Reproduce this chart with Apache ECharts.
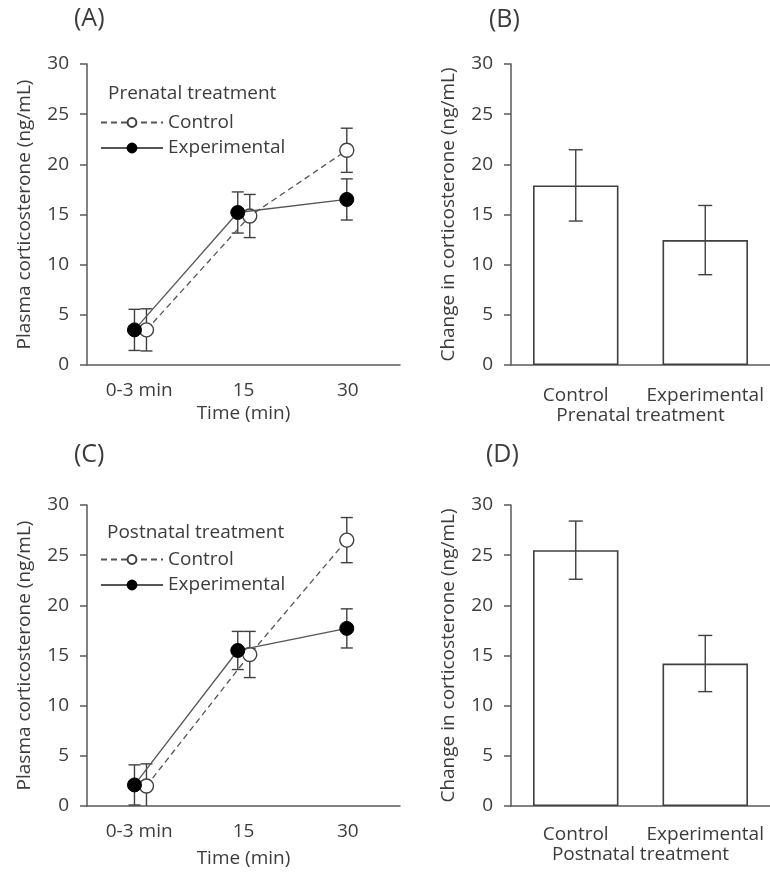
<!DOCTYPE html>
<html>
<head>
<meta charset="utf-8">
<script src="https://cdn.jsdelivr.net/npm/echarts@6/dist/echarts.min.js"></script>
<style>
	html, body { margin: 0; padding: 0; background: #fff; }
	#chart { width: 770px; height: 874px; }
</style>
</head>
<body>
<div id="chart"></div>
<script>
// categories
var timeLabels = ['0-3 min', '15', '30'];
var groupLabels = ['Control', 'Experimental'];

// (A) prenatal treatment, plasma corticosterone (mean, SEM)
var preCtrlMean = [3.5, 14.85, 21.4];
var preCtrlErr = [2.1, 2.15, 2.2];
var preExpMean = [3.5, 15.2, 16.5];
var preExpErr = [2.05, 2.05, 2.05];

// (C) postnatal treatment
var postCtrlMean = [2.0, 15.1, 26.5];
var postCtrlErr = [2.2, 2.3, 2.25];
var postExpMean = [2.1, 15.5, 17.7];
var postExpErr = [2.0, 1.9, 1.95];

// (B) and (D) change in corticosterone
var preChange = [17.9, 12.45];
var preChangeErr = [3.55, 3.45];
var postChange = [25.5, 14.2];
var postChangeErr = [2.9, 2.8];

// small horizontal dodge of the markers (category units)
var dodgeCtrl = [0.07, 0.06, -0.01];
var dodgeExp = [-0.045, -0.055, -0.01];

var FONT = 'Open Sans';
var TXT = '#3c3c3c';
var AXIS = '#595959';
var INK = '#404040';

function points(means, errs, dodge) {
	return means.map(function(m, i) { return [i + 0.5 + dodge[i], m, errs[i]]; });
}
function barErr(means, errs) {
	return means.map(function(m, i) { return [i, m, errs[i]]; });
}

function errorBar(cap) {
	return function(params, api) {
		var x = api.value(0), y = api.value(1), e = api.value(2);
		var hi = api.coord([x, y + e]);
		var lo = api.coord([x, y - e]);
		var st = { stroke: INK, lineWidth: 1.4, fill: null };
		return {
			type: 'group',
			children: [
				{ type: 'line', shape: { x1: hi[0], y1: hi[1], x2: lo[0], y2: lo[1] }, style: st },
				{ type: 'line', shape: { x1: hi[0] - cap, y1: hi[1], x2: hi[0] + cap, y2: hi[1] }, style: st },
				{ type: 'line', shape: { x1: lo[0] - cap, y1: lo[1], x2: lo[0] + cap, y2: lo[1] }, style: st }
			]
		};
	};
}

function yAxis(grid, name) {
	return {
		gridIndex: grid,
		type: 'value',
		min: 0,
		max: 30,
		interval: 5,
		name: name,
		nameLocation: 'middle',
		nameRotate: 90,
		nameGap: 53,
		nameTextStyle: { fontSize: 19, color: TXT, fontFamily: FONT },
		axisLine: { show: true, lineStyle: { color: AXIS, width: 1.5 } },
		axisTick: { show: true, inside: false, length: 7, lineStyle: { color: AXIS, width: 1.5 } },
		axisLabel: { fontSize: 19, color: TXT, margin: 18, fontFamily: FONT },
		splitLine: { show: false }
	};
}

function timeAxis(grid, gap) {
	return {
		gridIndex: grid,
		type: 'value',
		min: 0,
		max: 3,
		interval: 0.5,
		name: 'Time (min)',
		nameLocation: 'middle',
		nameGap: gap,
		nameTextStyle: { fontSize: 19, color: TXT, fontFamily: FONT },
		axisLine: { show: true, onZero: false, lineStyle: { color: AXIS, width: 1.5 } },
		axisTick: { show: false },
		splitLine: { show: false },
		axisLabel: {
			fontSize: 19, color: TXT, margin: 16, fontFamily: FONT,
			formatter: function(v) {
				var i = v - 0.5;
				return (i >= 0 && i % 1 === 0) ? timeLabels[i] : '';
			}
		}
	};
}

function groupAxis(grid, name, margin) {
	return {
		gridIndex: grid,
		type: 'category',
		data: groupLabels,
		name: name,
		nameLocation: 'middle',
		nameGap: 39,
		nameTextStyle: { fontSize: 19, color: TXT, fontFamily: FONT },
		axisLine: { show: true, lineStyle: { color: AXIS, width: 1.5 } },
		axisTick: { show: false },
		axisLabel: { fontSize: 19, color: TXT, margin: margin, fontFamily: FONT, interval: 0 },
		splitLine: { show: false }
	};
}

function lineSeries(name, idx, pts, dashed) {
	return {
		name: name,
		type: 'line',
		xAxisIndex: idx,
		yAxisIndex: idx,
		data: pts,
		symbol: 'circle',
		symbolSize: 14,
		z: dashed ? 3 : 4,
		itemStyle: dashed
			? { color: '#fff', borderColor: INK, borderWidth: 1.4 }
			: { color: '#000', borderColor: '#000', borderWidth: 1 },
		lineStyle: { color: '#555', width: 1.3, type: dashed ? [6, 4] : 'solid' },
		emphasis: { disabled: true },
		animation: false
	};
}

function errSeries(idx, data, cap) {
	return {
		type: 'custom',
		xAxisIndex: idx,
		yAxisIndex: idx,
		data: data,
		clip: true,
		z: 2,
		encode: { x: 0, y: 1 },
		renderItem: errorBar(cap),
		animation: false
	};
}

function barSeries(idx, values) {
	return {
		type: 'bar',
		xAxisIndex: idx,
		yAxisIndex: idx,
		data: values,
		barWidth: '66%',
		z: 1,
		itemStyle: { color: '#fff', borderColor: INK, borderWidth: 1.6 },
		emphasis: { disabled: true },
		animation: false
	};
}

var myChart = echarts.init(document.getElementById('chart'));
var titleStyle = { fontSize: 25, fontWeight: 'normal', color: TXT, fontFamily: FONT };
var subStyle = { fontSize: 19, fontWeight: 'normal', color: TXT, fontFamily: FONT };
var legendBase = {
	orient: 'vertical',
	left: 100,
	padding: 0,
	itemWidth: 62,
	itemHeight: 11,
	itemGap: 6.5,
	selectedMode: false,
	data: groupLabels,
	textStyle: { fontSize: 19, color: TXT, fontFamily: FONT }
};

var option = {
	backgroundColor: '#fff',
	animation: false,
	textStyle: { fontFamily: FONT },
	title: [
		{ text: '(A)', left: 74, top: 6, padding: 0, textStyle: titleStyle },
		{ text: '(B)', left: 489, top: 7, padding: 0, textStyle: titleStyle },
		{ text: '(C)', left: 74, top: 442, padding: 0, textStyle: titleStyle },
		{ text: '(D)', left: 486, top: 442, padding: 0, textStyle: titleStyle },
		{ text: 'Prenatal treatment', left: 108, top: 84, padding: 0, textStyle: subStyle },
		{ text: 'Postnatal treatment', left: 107, top: 523, padding: 0, textStyle: subStyle }
	],
	legend: [
		Object.assign({}, legendBase, { top: 113 }),
		Object.assign({}, legendBase, { top: 550 })
	],
	grid: [
		{ left: 87, top: 64, width: 313, height: 301 },
		{ left: 511, top: 64, width: 259, height: 301 },
		{ left: 87, top: 505, width: 313, height: 301 },
		{ left: 511, top: 505, width: 259, height: 301 }
	],
	xAxis: [
		timeAxis(0, 39),
		groupAxis(1, 'Prenatal treatment', 21),
		timeAxis(2, 43),
		groupAxis(3, 'Postnatal treatment', 19)
	],
	yAxis: [
		yAxis(0, 'Plasma corticosterone (ng/mL)'),
		yAxis(1, 'Change in corticosterone (ng/mL)'),
		yAxis(2, 'Plasma corticosterone (ng/mL)'),
		yAxis(3, 'Change in corticosterone (ng/mL)')
	],
	series: [
		errSeries(0, points(preCtrlMean, preCtrlErr, dodgeCtrl), 6),
		errSeries(0, points(preExpMean, preExpErr, dodgeExp), 6),
		lineSeries('Control', 0, points(preCtrlMean, preCtrlErr, dodgeCtrl), true),
		lineSeries('Experimental', 0, points(preExpMean, preExpErr, dodgeExp), false),

		barSeries(1, preChange),
		errSeries(1, barErr(preChange, preChangeErr), 7),

		errSeries(2, points(postCtrlMean, postCtrlErr, dodgeCtrl), 6),
		errSeries(2, points(postExpMean, postExpErr, dodgeExp), 6),
		lineSeries('Control', 2, points(postCtrlMean, postCtrlErr, dodgeCtrl), true),
		lineSeries('Experimental', 2, points(postExpMean, postExpErr, dodgeExp), false),

		barSeries(3, postChange),
		errSeries(3, barErr(postChange, postChangeErr), 7)
	]
};
myChart.setOption(option);
</script>
</body>
</html>
